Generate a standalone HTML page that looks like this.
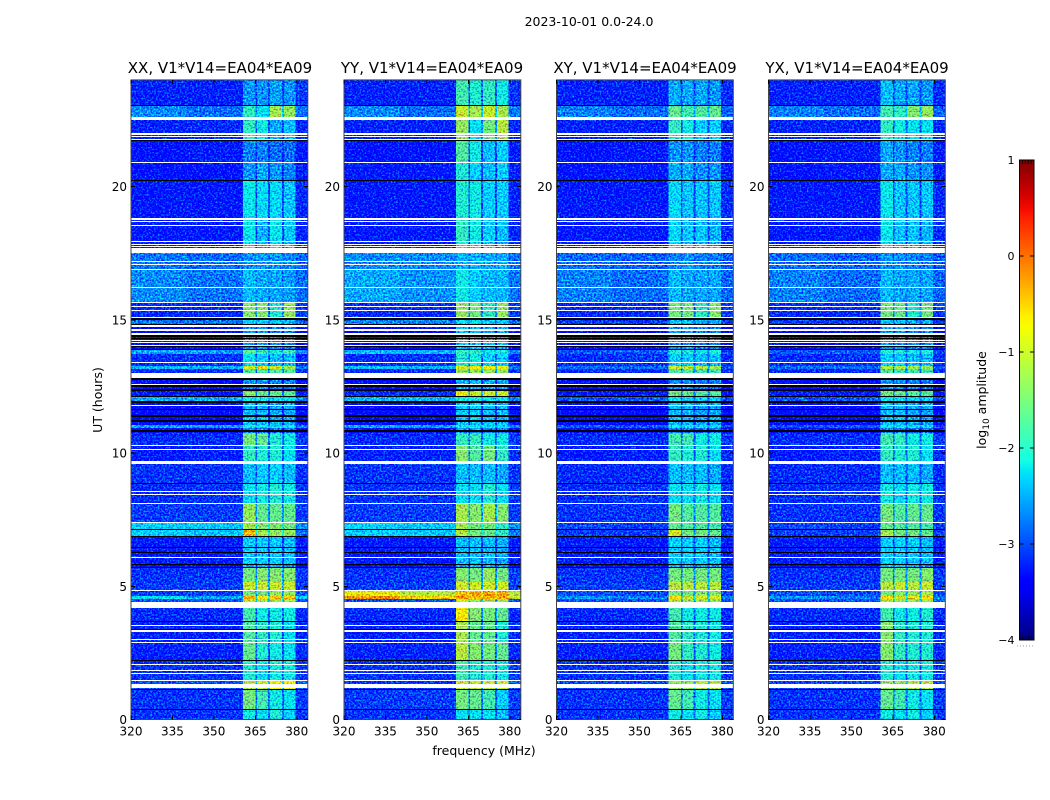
<!DOCTYPE html>
<html>
<head>
<meta charset="utf-8">
<title>2023-10-01 0.0-24.0</title>
<style>
html,body{margin:0;padding:0;background:#fff;}
svg{display:block;}
text{font-family:"DejaVu Sans","Liberation Sans",sans-serif;fill:#000;}
</style>
</head>
<body>
<svg id="fig" width="1050" height="800" viewBox="0 0 1050 800" xmlns="http://www.w3.org/2000/svg">
  <defs>
    <filter id="speckle" x="0" y="0" width="100%" height="100%" color-interpolation-filters="sRGB">
      <feTurbulence type="fractalNoise" baseFrequency="0.55" numOctaves="2" seed="4" result="n"/>
      <feColorMatrix in="n" type="matrix" values="0 0.4 0 0 0.25  0 1.8 0 0 -0.44  0 0 0 0 0.5  0 0 0 0 1" result="nc"/>
      <feComposite in="SourceGraphic" in2="nc" operator="arithmetic" k1="0" k2="1" k3="1" k4="-0.5" result="sum"/>
      <feComposite in="sum" in2="SourceAlpha" operator="in"/>
    </filter>
    <linearGradient id="jet-gradient" x1="0" y1="1" x2="0" y2="0"></linearGradient>
  </defs>
  <text x="589" y="26" font-size="12.5" text-anchor="middle">2023-10-01 0.0-24.0</text>
  <text x="220" y="73" font-size="15" text-anchor="middle">XX, V1*V14=EA04*EA09</text>
  <text x="432" y="73" font-size="15" text-anchor="middle">YY, V1*V14=EA04*EA09</text>
  <text x="645" y="73" font-size="15" text-anchor="middle">XY, V1*V14=EA04*EA09</text>
  <text x="857" y="73" font-size="15" text-anchor="middle">YX, V1*V14=EA04*EA09</text>
  <text transform="translate(102,400) rotate(-90)" font-size="12.5" text-anchor="middle">UT (hours)</text>
  <text x="484" y="755" font-size="12.5" text-anchor="middle">frequency (MHz)</text>
  <text transform="translate(986,400) rotate(-90)" font-size="12.5" text-anchor="middle">log<tspan font-size="9" dy="3">10</tspan><tspan dy="-3"> amplitude</tspan></text>
  <g id="panels"></g>
  <g id="colorbar"></g>
</svg>
<script>
// Frequency column edges (MHz): left, mid, band1, gap, band2, gap, band3, gap, band4, right
const freqEdges = [320, 340, 360.6, 365, 365.6, 369.6, 370.3, 374.6, 375.4, 379.6, 384];
const freqTicks = [320, 335, 350, 365, 380];
const hourTicks = [0, 5, 10, 15, 20];
const colorbarTicks = [-4, -3, -2, -1, 0, 1];

// Lower edge (UT hours) of each time segment, top of plot downward
const segmentBottomHours = [23.04,22.57,21.97,21.74,20.92,20.2,18.74,17.95,17.5,16.87,15.66,15.11,14.82,13.86,13.71,13.26,13.15,12.8,12.33,12.1,11.91,11.05,10.94,10.75,10.26,9.7,8.87,8.09,7.37,7.11,6.85,5.83,5.72,5.16,4.82,4.63,4.52,4.18,3.7,2.87,2.23,1.45,1.11,0.39,0];

// Flagged (blank) time ranges [upper, lower] in hours
const whiteFlags = [[22.59,22.5],[21.99,21.95],[21.89,21.86],[21.79,21.76],[20.92,20.88],[18.8,18.76],[18.69,18.65],[18.57,18.54],[17.97,17.94],[17.86,17.82],[17.77,17.73],[17.71,17.52],[17.22,17.19],[17.11,17.07],[16.92,16.89],[16.24,16.2],[15.68,15.65],[15.53,15.5],[15.38,15.35],[15.11,15.07],[14.81,14.72],[14.65,14.57],[14.51,14.43],[14.24,14.2],[14.15,14.11],[14.07,14.03],[13.43,13.4],[13.01,12.81],[12.59,12.54],[11.81,11.77],[10.3,10.26],[10.15,10.11],[9.71,9.59],[8.59,8.55],[8.48,8.44],[8.11,8.07],[7.4,7.36],[6.1,6.06],[4.86,4.82],[4.42,4.2],[3.55,3.51],[3.36,3.29],[3.01,2.97],[2.91,2.87],[2.08,2.05],[1.85,1.81],[1.74,1.71],[1.5,1.44],[1.34,1.18]];
// Zero-valued (black) time ranges [upper, lower] in hours
const blackFlags = [[23.06,23.02],[21.76,21.72],[20.24,20.2],[15.05,14.99],[14.85,14.81],[14.43,14.37],[14.31,14.26],[14.03,13.98],[13.9,13.86],[12.8,12.74],[12.54,12.48],[12.4,12.33],[12.14,12.1],[11.95,11.87],[11.66,11.6],[11.43,11.34],[11.24,11.17],[10.86,10.78],[8.87,8.84],[7.13,7.11],[6.89,6.84],[6.46,6.43],[6.3,6.25],[5.85,5.81],[5.72,5.68],[3.7,3.67],[3.41,3.38],[2.22,2.18],[1.14,1.1],[0.39,0.36]];

// log10 amplitude per segment: [left, mid, band1, band2, band3, band4, right]
const levelsXX = [
[-3.2,-3.2,-2.6,-2.6,-2.55,-2.6,-3.05],[-2.65,-2.8,-1.9,-2.2,-1.2,-1.3,-2.75],[-3.2,-3.15,-1.9,-2.1,-2.5,-2.4,-3.15],[-3.2,-3.15,-1.9,-2.1,-2.5,-2.4,-3.15],[-3.3,-3.25,-2.7,-2.7,-2.8,-2.8,-3.25],
[-3.3,-3.3,-2.6,-2.5,-2.6,-2.7,-3.25],[-3.25,-3.25,-2.15,-2.25,-2.25,-2.35,-3.15],[-3.25,-3.25,-2.15,-2.45,-2.15,-2.35,-3.15],[-3.25,-3.25,-2.2,-2.4,-2.2,-2.4,-3.15],[-2.75,-2.8,-2.6,-2.55,-2.6,-2.65,-2.85],
[-2.65,-2.75,-2.4,-2.5,-2.5,-2.55,-2.8],[-3.15,-3.15,-1.4,-1.4,-2.0,-1.3,-3.05],[-2.75,-2.8,-2.3,-2.3,-2.4,-2.4,-2.85],[-3.45,-3.45,-2.6,-2.6,-2.7,-2.7,-3.45],[-2.5,-2.55,-1.6,-1.8,-2.0,-1.8,-2.7],
[-3.15,-3.1,-2.2,-2.3,-2.4,-2.4,-3.15],[-2.4,-2.45,-0.9,-0.6,-0.9,-1.2,-2.7],[-3.15,-3.15,-1.7,-1.7,-1.7,-1.7,-3.15],[-3.45,-3.45,-2.6,-2.6,-2.7,-2.7,-3.45],[-3.25,-3.25,-1.4,-1.6,-1.6,-1.7,-3.25],
[-2.45,-2.5,-2.1,-2.1,-2.2,-2.2,-2.7],[-3.45,-3.45,-2.4,-2.4,-2.5,-2.5,-3.45],[-2.5,-2.55,-2.0,-2.1,-2.1,-2.1,-2.7],[-3.35,-3.35,-2.7,-2.7,-2.8,-2.8,-3.35],[-3.15,-3.15,-1.5,-1.6,-2.0,-2.1,-3.05],
[-3.25,-3.2,-1.9,-2.0,-2.0,-2.2,-3.15],[-3.1,-3.1,-2.4,-2.3,-2.3,-2.4,-3.1],[-3.15,-3.1,-2.2,-2.1,-2.0,-2.1,-3.1],[-3.05,-3.05,-1.3,-1.6,-1.6,-1.6,-3.05],[-2.3,-2.35,-1.2,-1.4,-1.4,-1.5,-2.6],
[-2.3,-2.35,-0.4,-1.2,-1.3,-1.3,-2.8],[-3.25,-3.25,-2.3,-2.3,-2.3,-2.4,-3.25],[-3.35,-3.35,-2.5,-2.5,-2.5,-2.6,-3.35],[-3.1,-3.1,-1.5,-1.4,-1.4,-1.4,-3.05],[-3.05,-3.05,-1.0,-1.0,-1.0,-1.0,-3.05],
[-3.05,-3.05,-1.5,-1.5,-1.3,-1.3,-2.85],[-2.2,-2.5,-0.3,-0.7,-0.5,-0.5,-2.3],[-2.95,-2.95,-1.0,-1.2,-1.2,-1.2,-2.95],[-3.15,-3.15,-1.8,-2.1,-2.1,-2.1,-3.15],[-3.2,-3.2,-1.7,-1.9,-2.0,-2.2,-3.15],
[-3.2,-3.2,-1.6,-2.0,-2.1,-2.2,-3.15],[-3.1,-3.1,-2.0,-2.2,-2.1,-2.1,-3.05],[-2.95,-2.95,-1.1,-1.0,-0.7,-0.7,-2.85],[-3.1,-3.1,-1.5,-1.8,-2.1,-2.2,-3.05],[-3.1,-3.1,-2.1,-2.2,-2.0,-2.3,-3.05]];

const levelsYY = [
[-3.2,-3.2,-1.8,-2.0,-1.9,-2.1,-3.1],[-2.65,-2.8,-1.0,-1.2,-1.0,-1.2,-2.75],[-3.2,-3.2,-1.3,-2.2,-1.5,-1.1,-3.15],[-3.2,-3.2,-1.3,-2.2,-1.5,-1.2,-3.15],[-3.3,-3.3,-1.7,-2.1,-2.4,-2.3,-3.25],
[-3.25,-3.25,-2.0,-2.3,-2.4,-2.3,-3.2],[-3.25,-3.25,-2.0,-2.1,-2.3,-2.3,-3.2],[-3.25,-3.25,-1.9,-2.1,-2.3,-2.4,-3.2],[-3.25,-3.25,-2.0,-2.2,-2.4,-2.5,-3.2],[-2.65,-2.65,-2.45,-2.45,-2.5,-2.5,-2.8],
[-2.5,-2.6,-2.1,-2.3,-2.4,-2.4,-2.75],[-3.15,-3.15,-1.3,-1.5,-1.9,-1.3,-3.05],[-2.65,-2.7,-2.2,-2.2,-2.3,-2.3,-2.85],[-3.45,-3.45,-2.4,-2.4,-2.5,-2.5,-3.45],[-2.4,-2.45,-1.9,-1.9,-2.1,-2.0,-2.7],
[-3.15,-3.1,-2.0,-2.1,-2.3,-2.3,-3.15],[-2.4,-2.45,-0.9,-0.7,-0.7,-0.8,-2.7],[-3.15,-3.15,-1.3,-1.3,-1.3,-1.3,-3.15],[-3.45,-3.45,-2.4,-2.4,-2.5,-2.5,-3.45],[-3.15,-3.15,-0.8,-1.0,-1.0,-1.0,-3.15],
[-2.4,-2.45,-2.1,-2.1,-2.2,-2.2,-2.7],[-3.45,-3.45,-2.3,-2.3,-2.4,-2.4,-3.45],[-2.5,-2.55,-2.1,-2.1,-2.2,-2.2,-2.7],[-3.35,-3.35,-2.6,-2.6,-2.7,-2.7,-3.35],[-3.15,-3.15,-1.9,-1.9,-2.1,-2.1,-3.05],
[-3.2,-3.2,-1.4,-1.7,-1.5,-1.9,-3.1],[-3.1,-3.1,-2.4,-2.4,-2.4,-2.5,-3.1],[-3.1,-3.1,-2.2,-2.2,-2.0,-2.2,-3.05],[-3.05,-3.05,-1.2,-1.4,-1.2,-1.4,-3.05],[-2.3,-2.35,-1.2,-1.5,-1.5,-1.9,-2.6],
[-2.3,-2.35,-1.1,-1.5,-1.6,-1.9,-2.7],[-3.25,-3.25,-2.4,-2.4,-2.4,-2.5,-3.25],[-3.35,-3.35,-2.5,-2.5,-2.5,-2.6,-3.35],[-3.1,-3.1,-1.4,-1.5,-1.3,-1.5,-3.05],[-3.05,-3.05,-0.95,-0.95,-0.95,-0.95,-3.05],
[-0.8,-1.1,-0.4,-0.3,-0.3,-0.3,-1.1],[-0.2,-0.6,-0.3,-0.5,-0.3,-0.3,-1.0],[-2.95,-2.95,-0.9,-1.3,-1.2,-1.2,-2.95],[-3.15,-3.15,-0.7,-1.4,-1.5,-1.6,-3.15],[-3.2,-3.2,-1.2,-1.6,-1.6,-2.0,-3.15],
[-3.2,-3.2,-1.1,-1.4,-1.5,-1.6,-3.15],[-3.1,-3.1,-1.8,-2.0,-2.0,-2.1,-3.05],[-3.1,-3.1,-1.0,-1.0,-1.0,-1.0,-2.95],[-3.05,-3.05,-1.5,-1.6,-1.8,-2.3,-3.05],[-3.1,-3.1,-2.2,-2.2,-2.2,-2.4,-3.05]];

const levelsXY = [
[-3.2,-3.2,-2.5,-2.5,-2.5,-2.6,-3.15],[-2.7,-2.8,-1.6,-1.8,-1.7,-1.6,-2.85],[-3.2,-3.2,-1.9,-2.1,-2.3,-2.3,-3.15],[-3.2,-3.2,-1.9,-2.1,-2.3,-2.3,-3.15],[-3.3,-3.25,-2.6,-2.6,-2.7,-2.7,-3.25],
[-3.3,-3.25,-2.5,-2.5,-2.6,-2.6,-3.25],[-3.25,-3.25,-2.25,-2.35,-2.35,-2.35,-3.15],[-3.25,-3.25,-2.25,-2.35,-2.35,-2.45,-3.15],[-3.25,-3.25,-2.3,-2.4,-2.4,-2.5,-3.15],[-2.8,-2.85,-2.7,-2.6,-2.7,-2.7,-2.9],
[-2.7,-2.8,-2.4,-2.5,-2.5,-2.5,-2.85],[-3.15,-3.15,-1.5,-1.5,-1.9,-1.4,-3.05],[-3.05,-3.05,-2.4,-2.4,-2.5,-2.5,-3.05],[-3.45,-3.45,-2.6,-2.6,-2.7,-2.7,-3.45],[-2.9,-2.9,-2.0,-2.0,-2.1,-2.0,-3.0],
[-3.15,-3.1,-2.3,-2.3,-2.4,-2.4,-3.15],[-2.8,-2.8,-1.0,-1.0,-1.1,-1.2,-2.9],[-3.15,-3.15,-1.7,-1.7,-1.8,-1.8,-3.15],[-3.45,-3.45,-2.6,-2.6,-2.7,-2.7,-3.45],[-3.25,-3.25,-1.5,-1.6,-1.7,-1.7,-3.25],
[-2.9,-2.9,-2.2,-2.2,-2.3,-2.3,-3.0],[-3.45,-3.45,-2.4,-2.4,-2.5,-2.5,-3.45],[-2.9,-2.9,-2.1,-2.1,-2.2,-2.2,-3.0],[-3.35,-3.35,-2.7,-2.7,-2.8,-2.8,-3.35],[-3.15,-3.15,-1.8,-1.8,-2.1,-2.1,-3.05],
[-3.25,-3.2,-1.9,-2.0,-2.0,-2.2,-3.15],[-3.15,-3.15,-2.4,-2.4,-2.4,-2.5,-3.15],[-3.15,-3.1,-2.2,-2.2,-2.1,-2.2,-3.1],[-3.1,-3.1,-1.5,-1.7,-1.7,-1.7,-3.1],[-3.0,-3.05,-1.6,-1.7,-1.7,-1.8,-3.05],
[-3.05,-3.05,-0.9,-1.5,-1.5,-1.6,-3.05],[-3.25,-3.25,-2.3,-2.3,-2.3,-2.4,-3.25],[-3.35,-3.35,-2.5,-2.5,-2.5,-2.6,-3.35],[-3.1,-3.1,-1.5,-1.5,-1.5,-1.5,-3.05],[-3.05,-3.05,-1.1,-1.1,-1.1,-1.1,-3.05],
[-2.95,-3.0,-1.5,-1.5,-1.4,-1.4,-2.95],[-2.6,-2.7,-0.6,-1.0,-0.9,-0.9,-2.7],[-2.95,-2.95,-1.1,-1.3,-1.3,-1.3,-2.95],[-3.15,-3.15,-1.8,-2.1,-2.1,-2.1,-3.15],[-3.2,-3.2,-1.7,-1.9,-2.0,-2.1,-3.15],
[-3.2,-3.2,-1.5,-1.9,-2.0,-2.1,-3.15],[-3.1,-3.1,-2.0,-2.2,-2.1,-2.1,-3.05],[-3.0,-3.0,-1.3,-1.3,-1.1,-1.1,-2.95],[-3.1,-3.1,-1.6,-1.8,-2.1,-2.2,-3.05],[-3.1,-3.1,-2.1,-2.2,-2.1,-2.3,-3.05]];

const levelsYX = [
[-3.2,-3.2,-2.4,-2.5,-2.5,-2.6,-3.15],[-2.7,-2.8,-1.8,-1.9,-1.4,-1.3,-2.85],[-3.2,-3.2,-1.9,-2.1,-2.2,-2.2,-3.15],[-3.2,-3.2,-1.9,-2.1,-2.2,-2.2,-3.15],[-3.3,-3.25,-2.5,-2.6,-2.7,-2.7,-3.25],
[-3.3,-3.25,-2.5,-2.5,-2.6,-2.6,-3.25],[-3.25,-3.25,-2.15,-2.35,-2.35,-2.35,-3.15],[-3.25,-3.25,-2.15,-2.35,-2.35,-2.45,-3.15],[-3.25,-3.25,-2.2,-2.4,-2.4,-2.5,-3.15],[-2.8,-2.85,-2.6,-2.6,-2.7,-2.7,-2.9],
[-2.7,-2.8,-2.4,-2.5,-2.5,-2.5,-2.85],[-3.15,-3.15,-1.5,-1.6,-2.0,-1.5,-3.05],[-3.05,-3.05,-2.4,-2.4,-2.5,-2.5,-3.05],[-3.45,-3.45,-2.6,-2.6,-2.7,-2.7,-3.45],[-2.9,-2.9,-2.0,-2.0,-2.1,-2.0,-3.0],
[-3.15,-3.1,-2.3,-2.3,-2.4,-2.4,-3.15],[-2.8,-2.8,-1.1,-1.1,-1.2,-1.3,-2.9],[-3.15,-3.15,-1.7,-1.8,-1.8,-1.8,-3.15],[-3.45,-3.45,-2.6,-2.6,-2.7,-2.7,-3.45],[-3.25,-3.25,-1.5,-1.6,-1.7,-1.7,-3.25],
[-2.9,-2.9,-2.2,-2.2,-2.3,-2.3,-3.0],[-3.45,-3.45,-2.4,-2.4,-2.5,-2.5,-3.45],[-2.9,-2.9,-2.1,-2.1,-2.2,-2.2,-3.0],[-3.35,-3.35,-2.7,-2.7,-2.8,-2.8,-3.35],[-3.15,-3.15,-1.8,-1.9,-2.1,-2.1,-3.05],
[-3.25,-3.2,-1.9,-2.0,-2.0,-2.2,-3.15],[-3.15,-3.15,-2.4,-2.4,-2.4,-2.5,-3.15],[-3.15,-3.1,-2.1,-2.2,-2.1,-2.1,-3.1],[-3.1,-3.1,-1.5,-1.7,-1.6,-1.6,-3.1],[-3.0,-3.05,-1.6,-1.7,-1.7,-1.8,-3.05],
[-3.05,-3.05,-1.2,-1.5,-1.5,-1.6,-3.05],[-3.25,-3.25,-2.3,-2.3,-2.3,-2.4,-3.25],[-3.35,-3.35,-2.5,-2.5,-2.5,-2.6,-3.35],[-3.1,-3.1,-1.5,-1.5,-1.5,-1.4,-3.05],[-3.05,-3.05,-1.1,-1.0,-1.1,-1.0,-3.05],
[-2.95,-3.0,-1.5,-1.4,-1.3,-1.2,-2.95],[-2.6,-2.7,-0.6,-0.9,-0.8,-0.7,-2.7],[-2.95,-2.95,-1.1,-1.3,-1.3,-1.2,-2.95],[-3.15,-3.15,-1.8,-2.1,-2.1,-2.0,-3.15],[-3.2,-3.2,-1.4,-1.9,-2.0,-2.0,-3.15],
[-3.2,-3.2,-1.4,-1.9,-2.0,-2.0,-3.15],[-3.1,-3.1,-2.0,-2.2,-2.1,-2.1,-3.05],[-3.0,-3.0,-1.3,-1.3,-1.1,-1.1,-2.95],[-3.1,-3.1,-1.6,-1.8,-2.1,-2.2,-3.05],[-3.1,-3.1,-2.1,-2.2,-2.1,-2.3,-3.05]];

// ---- layout & scales ----
const NS = 'http://www.w3.org/2000/svg';
const panelSeries = [levelsXX, levelsYY, levelsXY, levelsYX];
const panelKeys = ['xx', 'yy', 'xy', 'yx'];
const panelLefts = [131, 344, 556.5, 768.5];
const plotWidth = 176.8, plotTop = 79.9, plotBottom = 719.5;
const pxPerMHz = plotWidth / 64;
const pxPerHour = (plotBottom - plotTop) / 24;
const cbLeft = 1019.5, cbRight = 1034, cbTop = 160, cbBottom = 640;

function xScale(panel, f) { return panelLefts[panel] + (f - 320) * pxPerMHz; }
function yScale(h) { return plotBottom - h * pxPerHour; }
function cbScale(v) { return cbBottom - (v + 4) / 5 * (cbBottom - cbTop); }

function jet(t) {
  t = Math.max(0, Math.min(1, t));
  const clip = v => Math.max(0, Math.min(1, v));
  const r = clip(t < 0.89 ? (t - 0.35) / 0.31 : 1 - (t - 0.89) / 0.11 * 0.5);
  const g = clip(t < 0.64 ? (t - 0.125) / 0.25 : (0.91 - t) / 0.25);
  const b = clip(t < 0.11 ? 0.5 + t / 0.11 * 0.5 : (0.65 - t) / 0.31);
  return 'rgb(' + Math.round(r * 255) + ',' + Math.round(g * 255) + ',' + Math.round(b * 255) + ')';
}
function levelColor(v) { return jet((v + 4) / 5); }

function mk(tag, attrs, parent) {
  const el = document.createElementNS(NS, tag);
  for (const k in attrs) el.setAttribute(k, attrs[k]);
  parent.appendChild(el);
  return el;
}

// maps the 10 frequency columns onto the 7 level values; gaps sit close to the background
function gapLevel(bg, band) { return bg * 0.7 + band * 0.3; }
function columnLevel(row, c) {
  if (c === 0) return row[0];
  if (c === 1) return row[1];
  if (c === 2) return row[2];
  if (c === 3) return gapLevel(row[1], row[3]);
  if (c === 4) return row[3];
  if (c === 5) return gapLevel(row[1], row[4]);
  if (c === 6) return row[4];
  if (c === 7) return gapLevel(row[1], row[5]);
  if (c === 8) return row[5];
  return row[6];
}

const panelsRoot = document.getElementById('panels');
panelSeries.forEach(function (levels, p) {
  const left = panelLefts[p], right = left + plotWidth;
  const g = mk('g', {}, panelsRoot);
  
  

  const cells = mk('g', { filter: 'url(#speckle)', 'shape-rendering': 'crispEdges' }, g);
  
  

  segmentBottomHours.forEach(function (bottom, s) {
    const top = s === 0 ? 24 : segmentBottomHours[s - 1];
    for (let c = 0; c < freqEdges.length - 1; c++) {
      const x0 = xScale(p, freqEdges[c]), x1 = xScale(p, freqEdges[c + 1]);
      const y0 = yScale(top), y1 = yScale(bottom);
      const rect = mk('rect', { x: x0, y: y0, width: x1 - x0 + 0.4, height: y1 - y0 + 0.4, fill: levelColor(columnLevel(levels[s], c)) }, cells);
      
      
    }
  });

  function snappedBand(r, fill) {
    const y0 = Math.round(yScale(r[0]));
    const y1 = Math.max(y0 + 1, Math.round(yScale(r[1])));
    return mk('rect', { x: left, y: y0, width: plotWidth, height: y1 - y0, fill: fill, 'shape-rendering': 'crispEdges' }, g);
  }
  whiteFlags.forEach(function (r) {
    const band = snappedBand(r, '#fff');
    
    
  });
  blackFlags.forEach(function (r) {
    const band = snappedBand(r, '#000');
    
    
  });

  const frame = mk('rect', { x: left, y: plotTop, width: plotWidth, height: plotBottom - plotTop, fill: 'none', stroke: '#444', 'stroke-width': 1 }, g);
  
  

  freqTicks.forEach(function (f) {
    const x = xScale(p, f);
    const t1 = mk('line', { x1: x, x2: x, y1: plotBottom, y2: plotBottom - 4, stroke: '#000', 'stroke-width': 1, 'shape-rendering': 'crispEdges' }, g);
    
    
    const t2 = mk('line', { x1: x, x2: x, y1: plotTop, y2: plotTop + 4, stroke: '#000', 'stroke-width': 1, 'shape-rendering': 'crispEdges' }, g);
    
    
    const lab = mk('text', { x: x, y: plotBottom + 16, 'font-size': 12, 'text-anchor': 'middle' }, g);
    
    
    lab.textContent = f;
  });
  hourTicks.forEach(function (h) {
    const y = yScale(h);
    const t1 = mk('line', { x1: left, x2: left + 4, y1: y, y2: y, stroke: '#000', 'stroke-width': 1, 'shape-rendering': 'crispEdges' }, g);
    
    
    const t2 = mk('line', { x1: right - 4, x2: right, y1: y, y2: y, stroke: '#000', 'stroke-width': 1, 'shape-rendering': 'crispEdges' }, g);
    
    
    const lab = mk('text', { x: left - 4, y: y + 4.5, 'font-size': 12, 'text-anchor': 'end' }, g);
    
    
    lab.textContent = h;
  });
});

// ---- colorbar ----
const grad = document.getElementById('jet-gradient');
for (let i = 0; i <= 40; i++) {
  mk('stop', { offset: (i / 40 * 100) + '%', 'stop-color': jet(i / 40) }, grad);
}
const cb = document.getElementById('colorbar');
const cbRect = mk('rect', { x: cbLeft, y: cbTop, width: cbRight - cbLeft, height: cbBottom - cbTop, fill: 'url(#jet-gradient)', stroke: '#000', 'stroke-width': 1 }, cb);


colorbarTicks.forEach(function (v) {
  const y = cbScale(v);
  const t1 = mk('line', { x1: cbLeft, x2: cbLeft + 4, y1: y, y2: y, stroke: '#000', 'stroke-width': 1 }, cb);
  
  
  const t2 = mk('line', { x1: cbRight - 4, x2: cbRight, y1: y, y2: y, stroke: '#000', 'stroke-width': 1 }, cb);
  
  
  const lab = mk('text', { x: cbLeft - 5, y: y + 4, 'font-size': 11, 'text-anchor': 'end' }, cb);
  
  
  lab.textContent = String(v).replace('-', '\u2212');
});
for (let i = 1; i <= 4; i++) {
  const x = cbLeft + i * (cbRight - cbLeft) / 5;
  const m1 = mk('line', { x1: x, x2: x, y1: cbTop, y2: cbTop + 4, stroke: '#000', 'stroke-width': 0.8 }, cb);
  
  
  const m2 = mk('line', { x1: x, x2: x, y1: cbBottom, y2: cbBottom - 4, stroke: '#000', 'stroke-width': 0.8 }, cb);
  
  
}
const dots = mk('line', { x1: 1017, x2: 1035, y1: 646, y2: 646, stroke: '#999', 'stroke-width': 1, 'stroke-dasharray': '1 2' }, cb);


</script>
</body>
</html>
